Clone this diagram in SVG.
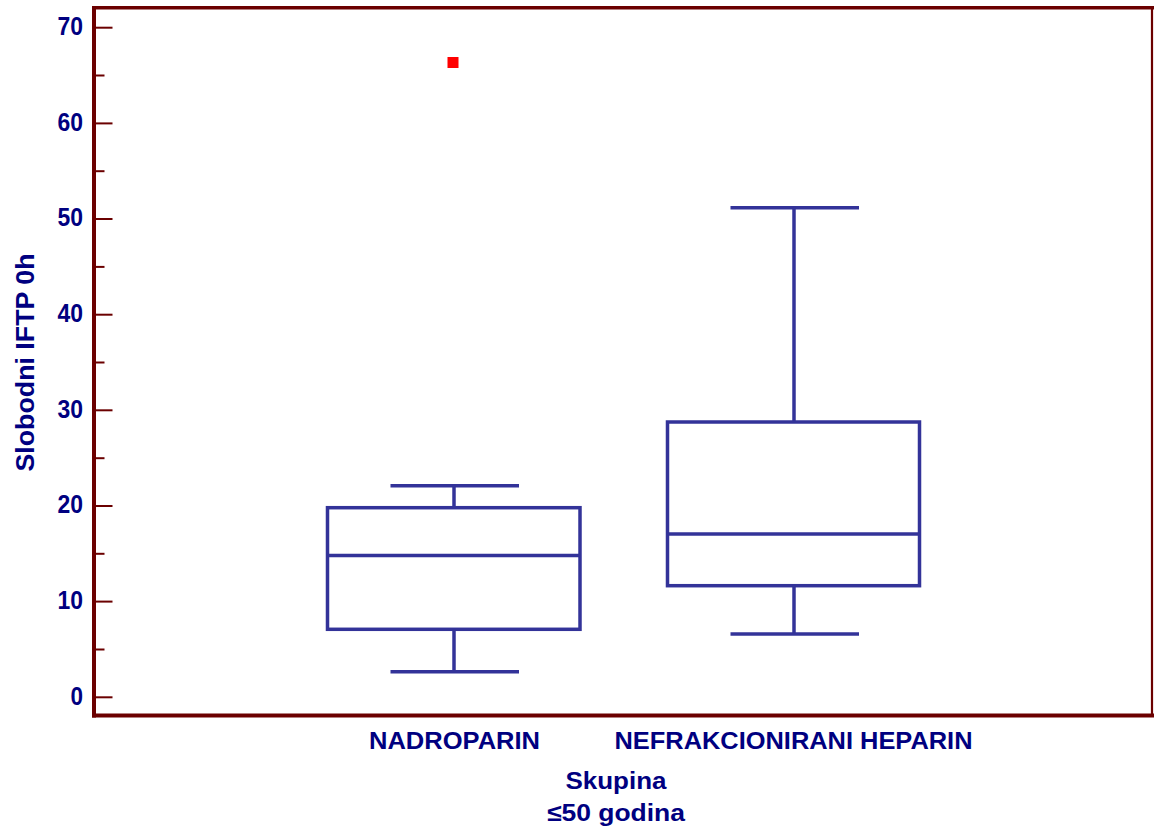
<svg xmlns="http://www.w3.org/2000/svg" width="1154" height="834" viewBox="0 0 1154 834">
<style>
.t{font-family:"Liberation Sans",Arial,sans-serif;font-weight:bold;fill:#000080}
.tick{font-size:26px;text-anchor:end}
.ax{stroke:#6b0000;fill:none}
.box{stroke:#333399;stroke-width:3.5;fill:none;stroke-linecap:butt}
</style>
<rect width="1154" height="834" fill="#ffffff"/>
<g id="frame" class="ax">
<line x1="94" y1="6" x2="94" y2="717.5" stroke-width="4"/>
<line x1="92" y1="7.8" x2="1154" y2="7.8" stroke-width="3.5"/>
<line x1="92" y1="715.5" x2="1154" y2="715.5" stroke-width="4"/>
<line x1="1152" y1="7" x2="1152" y2="716" stroke-width="2.2"/>
</g>
<g id="yticks" class="ax" stroke-width="2">
<line x1="96" y1="697.3" x2="112.5" y2="697.3"/>
<line x1="96" y1="649.5" x2="104.5" y2="649.5"/>
<line x1="96" y1="601.6" x2="112.5" y2="601.6"/>
<line x1="96" y1="553.8" x2="104.5" y2="553.8"/>
<line x1="96" y1="506" x2="112.5" y2="506"/>
<line x1="96" y1="458.2" x2="104.5" y2="458.2"/>
<line x1="96" y1="410.3" x2="112.5" y2="410.3"/>
<line x1="96" y1="362.5" x2="104.5" y2="362.5"/>
<line x1="96" y1="314.7" x2="112.5" y2="314.7"/>
<line x1="96" y1="266.9" x2="104.5" y2="266.9"/>
<line x1="96" y1="219" x2="112.5" y2="219"/>
<line x1="96" y1="171.2" x2="104.5" y2="171.2"/>
<line x1="96" y1="123.4" x2="112.5" y2="123.4"/>
<line x1="96" y1="75.5" x2="104.5" y2="75.5"/>
<line x1="96" y1="27.7" x2="112.5" y2="27.7"/>
</g>
<g id="ylabels" class="t tick">
<text x="83" y="704.5" textLength="12.5" lengthAdjust="spacingAndGlyphs">0</text>
<text x="83" y="608.8" textLength="25.5" lengthAdjust="spacingAndGlyphs">10</text>
<text x="83" y="513.2" textLength="25.5" lengthAdjust="spacingAndGlyphs">20</text>
<text x="83" y="417.5" textLength="25.5" lengthAdjust="spacingAndGlyphs">30</text>
<text x="83" y="321.9" textLength="25.5" lengthAdjust="spacingAndGlyphs">40</text>
<text x="83" y="226.2" textLength="25.5" lengthAdjust="spacingAndGlyphs">50</text>
<text x="83" y="130.6" textLength="25.5" lengthAdjust="spacingAndGlyphs">60</text>
<text x="83" y="34.9" textLength="25.5" lengthAdjust="spacingAndGlyphs">70</text>
</g>
<g id="ytitle">
<text class="t" transform="translate(33.5,362.5) rotate(-90)" text-anchor="middle" font-size="25" textLength="218" lengthAdjust="spacingAndGlyphs">Slobodni IFTP 0h</text>
</g>
<g id="box-nadroparin" class="box">
<line x1="390.5" y1="485.7" x2="519" y2="485.7"/>
<line x1="454" y1="485.7" x2="454" y2="507.7"/>
<rect x="327.5" y="507.7" width="252.5" height="121.6"/>
<line x1="327.5" y1="555.5" x2="580" y2="555.5"/>
<line x1="454" y1="629.3" x2="454" y2="671.7"/>
<line x1="390.5" y1="671.7" x2="519" y2="671.7"/>
</g>
<g id="outlier-nadroparin">
<rect x="447.5" y="57" width="11" height="11" fill="#ff0000"/>
</g>
<g id="box-nefrakcionirani" class="box">
<line x1="730.5" y1="207.7" x2="859" y2="207.7"/>
<line x1="794" y1="207.7" x2="794" y2="422"/>
<rect x="667.5" y="422" width="252" height="163.7"/>
<line x1="667.5" y1="534" x2="919.5" y2="534"/>
<line x1="794" y1="585.7" x2="794" y2="634"/>
<line x1="730.5" y1="634" x2="859" y2="634"/>
</g>
<g id="xlabels" class="t" text-anchor="middle" font-size="24">
<text x="454.5" y="748.5" textLength="171" lengthAdjust="spacingAndGlyphs">NADROPARIN</text>
<text x="793.5" y="748.5" textLength="358" lengthAdjust="spacingAndGlyphs">NEFRAKCIONIRANI HEPARIN</text>
</g>
<g id="xtitle" class="t" text-anchor="middle" font-size="24">
<text x="616" y="788.5" textLength="101" lengthAdjust="spacingAndGlyphs">Skupina</text>
<text x="616" y="821" textLength="138" lengthAdjust="spacingAndGlyphs">≤50 godina</text>
</g>
</svg>
